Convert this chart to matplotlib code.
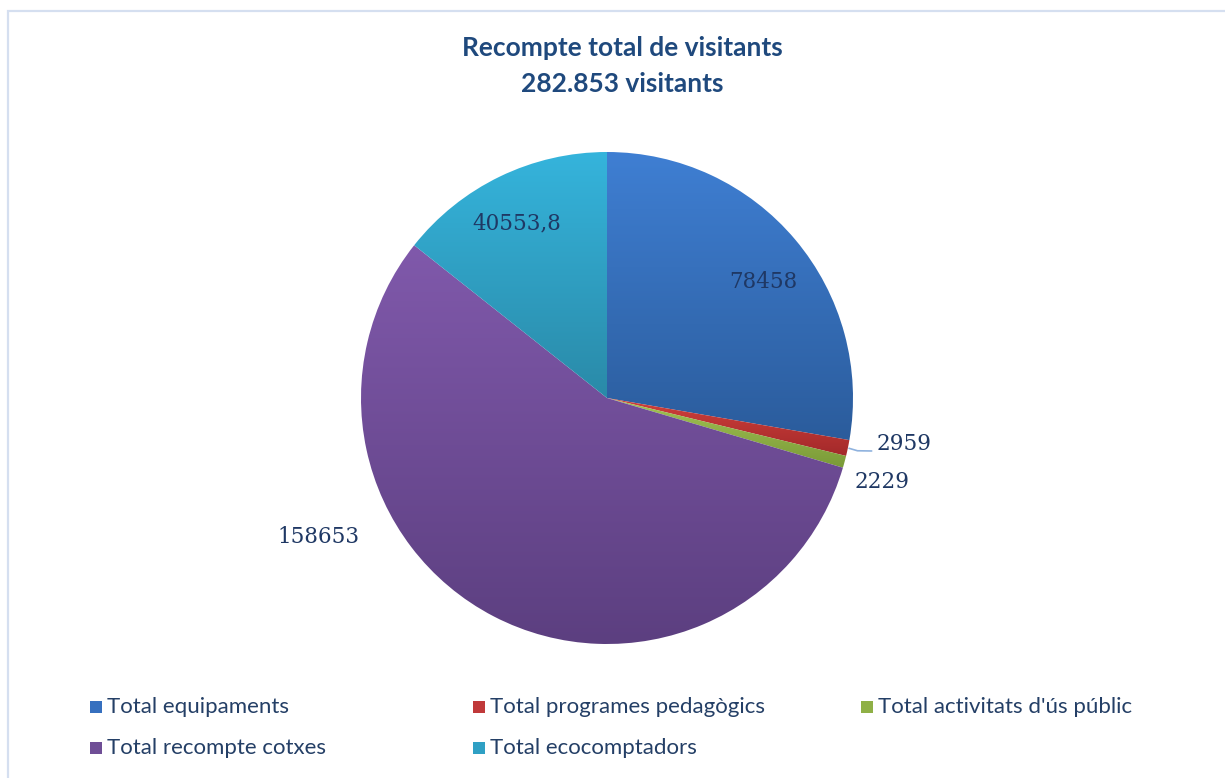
import numpy as np
import matplotlib
matplotlib.use("Agg")
import matplotlib.pyplot as plt
from matplotlib.colors import to_rgb
from matplotlib.patches import Rectangle

# ---- data ----
categories = ["Total equipaments", "Total programes pedagògics", "Total activitats d'ús públic",
              "Total recompte cotxes", "Total ecocomptadors"]
values = [78458, 2959, 2229, 158653, 40553.8]
value_labels = ["78458", "2959", "2229", "158653", "40553,8"]
title_lines = ["Recompte total de visitants", "282.853 visitants"]

# ---- style ----
grad_top = ["#3f7fd3", "#d0403b", "#a3c454", "#8059ab", "#35b4dc"]
grad_bot = ["#2b5c9c", "#a3292a", "#7a9a38", "#5c3f80", "#2a8aa8"]
legend_cols = ["#3670bf", "#c0393a", "#8fb046", "#6f4e96", "#2fa0c4"]
# label placement: (angle offset from slice middle in deg, radial factor)
label_pos = [(-3.5, 0.79), (3.0, 1.22), (-2.0, 1.17), (-36.9, 1.30), (1.5, 0.80)]
text_col = "#1f3864"
title_col = "#1f497d"
legend_text_col = "#243f66"

W, H = 1225, 778
fig = plt.figure(figsize=(W / 100, H / 100), dpi=100)
fig.patch.set_facecolor("white")

# border
fig.add_artist(Rectangle((7.5 / W, -0.05), 1.2, (H - 10.5) / H + 0.05, transform=fig.transFigure,
                         fill=False, edgecolor="#d5dff0", linewidth=1.6))

cx, cy, R = 607, 398, 246
lim = 1.3
size = 2 * lim * R
ax = fig.add_axes([(cx - size / 2) / W, (H - cy - size / 2) / H, size / W, size / H])
ax.set_xlim(-lim, lim)
ax.set_ylim(-lim, lim)
ax.axis("off")

wedges, _ = ax.pie(values, startangle=90, counterclock=False, radius=1.0,
                   wedgeprops=dict(linewidth=0))
ax.set_xlim(-lim, lim)
ax.set_ylim(-lim, lim)

# gradient fills
for w, ct, cb in zip(wedges, grad_top, grad_bot):
    w.set_facecolor("none")
    ext = w.get_path().get_extents()
    n = 256
    t = np.linspace(0, 1, n)[:, None]
    top = np.array(to_rgb(ct)); bot = np.array(to_rgb(cb))
    img = bot[None, None, :] * (1 - t[:, :, None]) + top[None, None, :] * t[:, :, None]
    img = np.repeat(img, 2, axis=1)
    im = ax.imshow(img, origin="lower", extent=[ext.x0, ext.x1, ext.y0, ext.y1],
                   aspect="auto", interpolation="bilinear", zorder=1)
    im.set_clip_path(w)
ax.set_xlim(-lim, lim)
ax.set_ylim(-lim, lim)

# labels
for i, (w, lab) in enumerate(zip(wedges, value_labels)):
    mid = (w.theta1 + w.theta2) / 2
    off, rf = label_pos[i]
    a = np.deg2rad(mid + off)
    x, y = rf * np.cos(a), rf * np.sin(a)
    ax.text(x, y, lab, ha="center", va="center", fontsize=15.5,
            family="DejaVu Serif", color=text_col, zorder=5)
    if i == 1:
        am = np.deg2rad(mid)
        ax.plot([np.cos(am) * 1.005, np.cos(am) * 1.04, x - 0.13],
                [np.sin(am) * 1.005, np.sin(am) * 1.005 - 0.01, y - 0.03],
                color="#8fb2de", lw=1.2, zorder=4, solid_capstyle="round")

# title
fig.text(622 / W, 1 - 48 / H, title_lines[0], ha="center", va="center",
         fontsize=19, fontweight="bold", family="Lato", color=title_col)
fig.text(622 / W, 1 - 84 / H, title_lines[1], ha="center", va="center",
         fontsize=19, fontweight="bold", family="Lato", color=title_col)

# legend (manual grid, 3 columns)
col_x = [90, 473, 861]
row_y = [707, 748]
for k, (name, c) in enumerate(zip(categories, legend_cols)):
    r, cidx = divmod(k, 3)
    x0, y0 = col_x[cidx], row_y[r]
    fig.add_artist(Rectangle((x0 / W, (H - y0 - 6) / H), 12 / W, 12 / H,
                             transform=fig.transFigure, facecolor=c, edgecolor="none"))
    fig.text((x0 + 17) / W, 1 - y0 / H, name, ha="left", va="center",
             fontsize=16, family="Lato", color=legend_text_col)

fig.savefig("out.png", dpi=100, facecolor="white")
